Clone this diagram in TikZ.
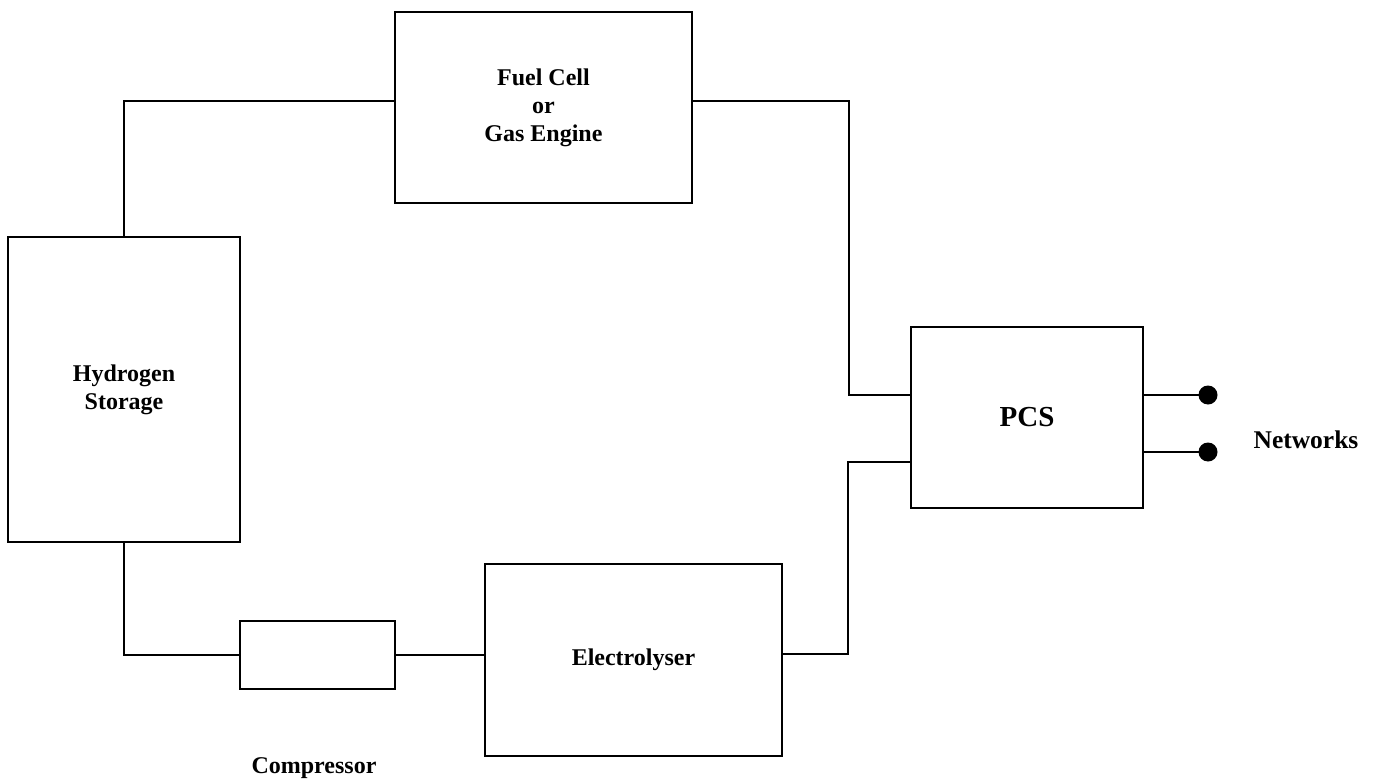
\documentclass[tikz,border=0pt]{standalone}
\usepackage{fontspec}
\setmainfont{Liberation Serif}
\begin{document}
\begin{tikzpicture}[x=1pt,y=-1pt,
  box/.style={draw,line width=1.6pt,rectangle,inner sep=0pt,align=center,font=\bfseries\fontsize{24}{28}\selectfont},
  wire/.style={line width=1.6pt},
  dot/.style={circle,fill,inner sep=0pt,minimum size=19pt},
  lbl/.style={font=\bfseries\fontsize{24}{28}\selectfont}]
\useasboundingbox (0,0) rectangle (1378,781);
\node[box,minimum width=297pt,minimum height=191pt] (fc) at (543.5,107.5) {Fuel Cell\\or\\Gas Engine};
\node[box,minimum width=232pt,minimum height=305pt] (hs) at (124,389.5) {Hydrogen\\Storage};
\node[box,minimum width=232pt,minimum height=181pt,font=\bfseries\fontsize{29}{34}\selectfont] (pcs) at (1027,417.5) {PCS};
\node[box,minimum width=155pt,minimum height=68pt] (comp) at (317.5,655) {};
\node[box,minimum width=297pt,minimum height=192pt] (el) at (633.5,660) {Electrolyser};
\node[lbl] (cl) at (314,768) {Compressor};
\node[lbl,font=\bfseries\fontsize{25.5}{30}\selectfont] (nw) at (1306,440) {Networks};
\node[dot] (d1) at (1208,395) {};
\node[dot] (d2) at (1208,452) {};
\draw[wire] (hs.north) |- ([yshift=6.5pt]fc.west);
\draw[wire] ([yshift=6.5pt]fc.east) -- ++(156,0) |- ([yshift=22.5pt]pcs.west);
\draw[wire] ([yshift=6pt]el.east) -- ++(65,0) |- ([yshift=-44.5pt]pcs.west);
\draw[wire] (comp.east) -- (comp.east -| el.west);
\draw[wire] (comp.west) -| (hs.south);
\draw[wire] ([yshift=22.5pt]pcs.east) -- (d1.center);
\draw[wire] ([yshift=-34.5pt]pcs.east) -- (d2.center);
\end{tikzpicture}
\end{document}
